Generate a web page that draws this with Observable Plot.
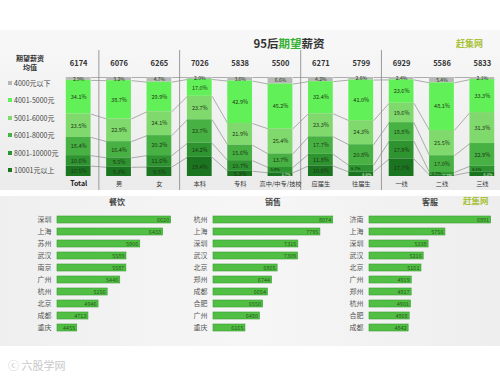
<!DOCTYPE html>
<html><head><meta charset="utf-8">
<script src="https://cdn.jsdelivr.net/npm/d3@7"></script>
<script src="https://cdn.jsdelivr.net/npm/@observablehq/plot@0.6"></script>
<style>
body{margin:0;width:500px;height:380px;overflow:hidden;background:#fff;font-family:"Noto Sans CJK SC","Noto Sans",sans-serif;position:relative}
.abs{position:absolute}
.leg{position:absolute;left:8px;font-size:7px;color:#444;white-space:nowrap;line-height:8px}
.leg i{display:inline-block;width:4px;height:4px;margin-right:2px;vertical-align:1px}
.ptitle{position:absolute;top:196px;font-size:8px;color:#444;font-weight:bold;width:40px;text-align:center}
</style></head><body>
<div class="abs" style="left:0;top:30px;width:500px;height:160px;background:linear-gradient(#f8f8f8,#ebebeb)"></div>
<div class="abs" style="left:0;top:196px;width:500px;height:150px;background:linear-gradient(90deg,#efefef,#f6f6f6 50%,#eeeeee)"></div>
<div class="abs" style="left:0;top:35px;width:500px;text-align:center;font-size:11.5px;font-weight:bold;color:#333;padding-left:78px;box-sizing:border-box">95后<span style="color:#35b034">期望</span>薪资</div>
<div class="abs" style="left:456px;top:37px;font-size:9px;color:#a9c23a;font-weight:bold">赶集网</div>
<div class="abs" style="left:8px;top:54px;width:44px;text-align:center;font-size:7px;color:#333;font-weight:bold;line-height:9px">期望薪资<br>均值</div>
<div id="legend"></div>
<div id="topchart" class="abs" style="left:0;top:47px"></div>
<div class="ptitle" style="left:97px">餐饮</div>
<div class="ptitle" style="left:253px">销售</div>
<div class="ptitle" style="left:410px">客服</div>
<div class="abs" style="left:463px;top:194px;font-size:8.5px;color:#a9c23a;font-weight:bold">赶集网</div>
<div id="b1" class="abs" style="left:20px;top:209px"></div>
<div id="b2" class="abs" style="left:175px;top:209px"></div>
<div id="b3" class="abs" style="left:330px;top:209px"></div>
<div class="abs" style="left:8px;top:357px;font-size:11px;color:#c8c8c8">ⓒ 六股学网</div>
<script>
// ---------- top chart data ----------
const categories = ["Total","男","女","本科","专科","高中/中专/技校","应届生","往届生","一线","二线","三线"];
const averages = [6174,6076,6265,7026,5838,5500,6271,5799,6929,5586,5833];
const bands = ["4000元以下","4001-5000元","5001-6000元","6001-8000元","8001-10000元","10001元以上"];
const bandColors = ["#b8b8b8","#62f058","#80d96c","#47b243","#2e9430","#1b7420"];
const share4000 = [2.9,3.2,4.7,2.0,3.6,6.6,4.2,2.6,2.4,5.4,2.1];
const share5000 = [34.1,38.7,29.9,17.0,42.9,45.2,32.4,41.0,23.6,48.1,33.3];
const share6000 = [23.5,22.9,24.1,23.7,21.9,25.4,23.3,24.3,19.6,25.5,31.3];
const share8000 = [18.4,16.4,20.2,23.7,15.6,13.7,17.7,20.8,18.8,17.0,22.9];
const share10000 = [10.6,9.5,11.6,14.2,10.7,5.4,11.8,6.7,17.9,2.7,6.1];
const shareAbove = [10.5,9.3,9.5,19.4,5.3,3.7,10.6,4.6,17.7,1.3,4.3];
const groupBreaks = [0.5,2.5,5.5,7.5];

// ---------- bottom charts data ----------
const cateringCities = ["深圳","上海","苏州","武汉","南京","广州","杭州","北京","成都","重庆"];
const cateringValues = [6620,6433,5906,5589,5587,5446,5156,4946,4713,4455];
const salesCities = ["杭州","上海","深圳","武汉","北京","郑州","成都","合肥","广州","重庆"];
const salesValues = [8074,7795,7315,7309,6865,6744,6654,6550,6480,6165];
const serviceCities = ["济南","上海","深圳","武汉","北京","广州","郑州","杭州","合肥","成都"];
const serviceValues = [6891,5756,5338,5216,5161,4919,4917,4901,4868,4842];

const font = '"Noto Sans CJK SC","Noto Sans",sans-serif';

// legend
const leg = document.getElementById("legend");
bands.forEach((b, k) => {
  const d = document.createElement("div");
  d.className = "leg";
  d.style.top = (79 + k * 17.4) + "px";
  d.innerHTML = `<i style="background:${bandColors[k]}"></i>${b}`;
  leg.appendChild(d);
});

// build stacked segments (top to bottom)
const shares = [share4000, share5000, share6000, share8000, share10000, shareAbove];
const segments = [];
const bounds = [];
categories.forEach((c, i) => {
  const total = d3.sum(shares, s => s[i]);
  let top = 100;
  const b = [top];
  const tightBottom = shareAbove[i] / total * 100 < 5;
  shares.forEach((s, k) => {
    const h = s[i] / total * 100;
    segments.push({i, k, band: bands[k], value: s[i], y2: top, y1: top - h, pair: tightBottom && k >= 4});
    top -= h;
    b.push(top);
  });
  bounds.push(b);
});
const half = 0.307;
const links = [];
for (let i = 0; i < categories.length - 1; i++) {
  for (let k = 0; k < 6; k++) {
    links.push({x1: i + half, x2: i + 1 - half, y1: bounds[i][k], y2: bounds[i + 1][k]});
  }
}
const label = d => d.value.toFixed(1) + "%";
const mid = d => (d.y1 + d.y2) / 2;

const topPlot = Plot.plot({
  width: 500, height: 147,
  marginLeft: 58, marginRight: 0, marginTop: 30, marginBottom: 18,
  x: {domain: [-0.5, 10.45], axis: null},
  y: {domain: [0, 100], axis: null},
  color: {domain: bands, range: bandColors},
  style: {background: "transparent", fontFamily: font},
  marks: [
    Plot.ruleX(groupBreaks, {stroke: "#9a9a9a", strokeWidth: 1, insetTop: -27, insetBottom: -14}),
    Plot.link(links, {x1: "x1", x2: "x2", y1: "y1", y2: "y2", stroke: "#8c8c8c", strokeWidth: 0.7}),
    Plot.rect(segments, {x1: d => d.i - half, x2: d => d.i + half, y1: "y1", y2: "y2", fill: "band"}),
    Plot.text(segments, {filter: d => !d.pair && d.k > 0, x: "i", y: mid, text: label, fontSize: 5.5, fill: "#1c3514"}),
    Plot.text(segments, {filter: d => d.k === 0, x: "i", y: mid, text: label, fontSize: 5, fill: "#1c3514"}),
    Plot.text(segments, {filter: d => d.pair && d.k === 4, x: "i", y: mid, dx: -5.5, text: label, fontSize: 4, fill: "#10240b"}),
    Plot.text(segments, {filter: d => d.pair && d.k === 5, x: "i", y: mid, dx: 5.5, text: label, fontSize: 4, fill: "#d8f0d0"}),
    Plot.text(averages, {x: (d, i) => i, y: 100, dy: -14, text: d => String(d), fontSize: 7.5, fontWeight: "bold", fill: "#333"}),
    Plot.text(categories, {filter: (d, i) => i === 0, x: (d, i) => i, frameAnchor: "bottom", dy: 9, text: d => d, fontSize: 7, fontWeight: "bold", fill: "#222"}),
    Plot.text(categories, {filter: (d, i) => i > 0, x: (d, i) => i, frameAnchor: "bottom", dy: 9, text: d => d, fontSize: 6.2, fill: "#333"})
  ]
});
document.getElementById("topchart").appendChild(topPlot);

function barPanel(id, cities, values, domain, width, marginLeft, marginRight) {
  const data = cities.map((c, i) => ({city: c, value: values[i]}));
  const p = Plot.plot({
    width, height: 129, marginLeft, marginRight, marginTop: 0, marginBottom: 0,
    x: {domain, axis: null},
    y: {domain: cities, padding: 0.45, label: null},
    style: {background: "transparent", fontFamily: font},
    marks: [
      Plot.axisY({tickSize: 0, tickPadding: 6, fontSize: 7, color: "#555", label: null}),
      Plot.barX(data, {x1: domain[0], x2: "value", y: "city", fill: "#50bf43", stroke: "#3b9a33", strokeWidth: 0.6}),
      Plot.text(data, {x: "value", y: "city", text: d => String(d.value), textAnchor: "end", dx: -2, fontSize: 5.5, fill: "#2a5a1c"})
    ]
  });
  document.getElementById(id).appendChild(p);
}
barPanel("b1", cateringCities, cateringValues, [4000, 6650], 155, 37, 3);
barPanel("b2", salesCities, salesValues, [5470, 8080], 160, 38, 2);
barPanel("b3", serviceCities, serviceValues, [3870, 6900], 168, 39, 7);
</script>
</body></html>
